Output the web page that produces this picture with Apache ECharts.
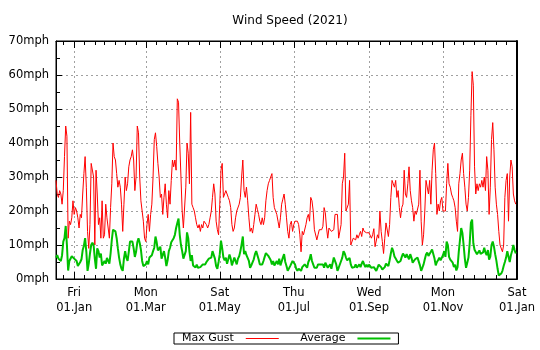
<!DOCTYPE html>
<html>
<head>
<meta charset="utf-8">
<script src="https://cdn.jsdelivr.net/npm/echarts@6/dist/echarts.min.js"></script>
<style>
  html, body { margin: 0; padding: 0; background: #fff; }
  #chart { width: 540px; height: 350px; }
</style>
</head>
<body>
<div id="chart"></div>
<script>
// Daily wind readings, one value per day starting at firstDay.
const chartTitle = 'Wind Speed (2021)';
const firstDay = [2020, 11, 17];          // 17 Dec 2020 (UTC year, month index, day)
const lastDay = [2022, 0, 1];             // axis ends on 01 Jan 2022
const majorTicks = ['2021-01-01', '2021-03-01', '2021-05-01', '2021-07-01', '2021-09-01', '2021-11-01', '2022-01-01'];
const dayNames = ['Sun', 'Mon', 'Tue', 'Wed', 'Thu', 'Fri', 'Sat'];
const monthNames = ['Jan', 'Feb', 'Mar', 'Apr', 'May', 'Jun', 'Jul', 'Aug', 'Sep', 'Oct', 'Nov', 'Dec'];
const seriesNames = ['Max Gust', 'Average'];

// Max gust (mph)
const maxGust = [
  29, 25, 24, 26, 25, 22, 26, 36, 45, 42,
  12, 17, 16, 18, 23, 19, 21, 20, 18, 15,
  19, 18, 25, 31, 36, 27, 14, 9, 16, 34,
  34, 30, 10, 32, 25, 16, 18, 12, 23, 12,
  13, 22, 18, 15, 12, 21, 28, 40, 36, 35,
  31, 27, 29, 27, 22, 14, 22, 30, 26, 28,
  33, 35, 36, 38, 35, 26, 30, 45, 43, 30,
  23, 20, 17, 12, 11, 16, 19, 14, 19, 22,
  30, 41, 43, 39, 34, 30, 24, 25, 19, 24,
  28, 22, 18, 26, 22, 29, 35, 33, 35, 32,
  53, 52, 40, 30, 20, 15, 15, 27, 40, 37,
  28, 49, 22, 21, 20, 18, 16, 15, 16, 14,
  16, 15, 17, 17, 16, 15, 16, 18,
  20, 24, 28, 25, 17, 14.5, 13, 22, 32, 34,
  24, 25, 26, 25, 24, 23, 21, 16, 14, 15,
  18, 20, 20.5, 22, 24, 30, 35, 26, 24, 27,
  23, 18, 14, 15, 13.5, 16, 19, 22, 20.5, 19,
  17, 16, 18, 16, 18, 23, 26, 28, 29, 30,
  31, 24, 21, 20, 19, 17, 15, 18, 22, 23.5,
  25, 22, 18, 14, 12, 16, 17, 14, 16, 17,
  17, 17, 16, 13, 8, 14, 13, 13.5, 16, 18,
  19, 17, 24, 23, 20, 14.5, 14, 11.5, 13, 14.5,
  15, 14.5, 15.5, 21, 19.5, 15, 12, 15, 15, 14,
  14, 14.5, 19, 19, 19, 12, 12, 16, 28, 30,
  37, 20, 20, 22, 29, 10, 10, 12, 12, 11.5,
  13, 12, 13, 14, 12.5, 15, 14,
  14, 13.6, 14, 13.6, 14, 12, 13, 14.8, 9.5, 10,
  13, 12, 20, 14, 11, 7.5, 12, 16.5, 16, 12.5,
  16, 24, 29, 28, 27, 29, 24, 26, 21, 18,
  21, 22, 32, 25, 24, 28, 33, 26, 23, 21,
  17, 20, 19, 19, 22, 32, 17, 10, 13, 20,
  29, 28.5, 25, 29, 22, 32, 38, 40, 31, 19,
  22, 20, 23, 24, 20, 20, 20, 28, 34, 28,
  27, 25, 24, 23, 21, 17, 14, 28, 31, 35,
  37, 31, 27, 22, 20, 24, 32, 48, 61, 57,
  33, 25, 28, 26, 28, 27, 29, 27, 30, 26,
  36, 32, 19, 27, 41, 46, 38, 27, 22, 19,
  14, 10, 9.5, 8, 10, 24, 29, 31, 17, 30,
  35, 33, 25, 23, 22
];

// Daily average (mph)
const average = [
  6.3, 7, 6, 5.5, 5.3, 7, 11, 12, 15.6, 10,
  2.5, 5.3, 5.7, 6.7, 7, 6, 6.3, 5.3, 3.8, 3.5,
  5, 5.8, 8.5, 9.8, 12, 8, 2.4, 4.5, 7.5, 10,
  10.7, 10, 6, 3, 9, 8.2, 6.3, 7.5, 4, 4.3,
  5.3, 4.5, 6.2, 6.3, 4.5, 7.5, 11.5, 14.5, 14.6, 14,
  12, 9, 6.3, 4.3, 3, 2.4, 6, 8.2, 6.3, 5.3,
  8, 11, 10.5, 11, 9, 6.5, 8, 10.8, 12, 10.6,
  8.6, 5.3, 3.8, 3.3, 4.3, 5.3, 4.3, 6.3, 6.5, 7,
  8.2, 9.2, 12.5, 10.8, 8.4, 8.2, 9.5, 6, 6.3, 8.2,
  6.3, 3.8, 5.5, 8.2, 9.2, 10.8, 11.4, 12, 13, 15,
  16.5, 17.8, 13, 10, 8.2, 6, 5.5, 8.2, 13.7, 12,
  8, 5.3, 7, 4, 3.5, 3.4, 4.2, 3.3, 3.7, 3.5,
  3.6, 4.3, 3.8, 4.3, 5, 5.2, 6, 6.3,
  6.3, 8.2, 8.5, 6, 3.8, 3, 5, 7.3, 11.3, 9,
  6.3, 5.5, 6.3, 4.5, 5.8, 7.2, 6, 4, 4, 6.3,
  5.8, 4.3, 6, 6.7, 8.2, 10.2, 12.5, 7.3, 8.2, 7,
  6.5, 5.3, 3.3, 4, 4, 5.8, 7.3, 8.2, 8, 5.8,
  4.3, 3.8, 4.3, 5.3, 6.5, 7.6, 7.2, 6.8, 6.2, 5.5,
  4.3, 5.3, 4, 3.5, 5.3, 4.3, 6, 4, 4.3, 6.3,
  7.3, 5, 3.8, 2.4, 1.9, 3.8, 4, 5.3, 4.8, 4.3,
  3, 2.4, 3, 2.8, 2.4, 3.5, 3.8, 4.3, 3.8, 3.3,
  5, 5.8, 7.3, 5.3, 4.3, 3.3, 3.6, 3.3, 4.3, 3.8,
  4.3, 3.8, 4.3, 3.3, 4.8, 5, 3.3, 3.8, 4.3, 3,
  3.5, 6.3, 6.8, 4.3, 2.4, 3.3, 3.5, 5.3, 6.3, 8.2,
  7.5, 6.3, 5.5, 6, 6.2, 4.3, 3.3, 3.8, 3.5, 4.3,
  3.3, 3.8, 4.3, 3.5, 4.5, 5.3, 4.3,
  3.5, 4.2, 3.5, 4.2, 3.8, 3.3, 2.8, 3.5, 3.8, 2.4,
  3.3, 4.2, 3.8, 3.5, 2.8, 2.4, 3.5, 4.5, 4.3, 3.8,
  5.5, 7.5, 9.2, 8.2, 6.6, 6, 5.4, 4.8, 4.3, 5.3,
  6.5, 7.5, 7.3, 6.3, 7.3, 7.8, 5.8, 7.3, 6.3, 4.8,
  5.2, 5.8, 5.3, 6.3, 6.5, 4, 2.4, 3.3, 4.3, 5.8,
  7.2, 7.8, 6.8, 6.8, 8, 8.7, 8.2, 6, 4, 5,
  5.6, 6.3, 5.5, 6, 7, 8.2, 6.5, 11, 10, 6.5,
  5.7, 6.2, 4.8, 3.5, 4.2, 2.5, 3.5, 8, 11.5, 15,
  13.5, 10, 6, 3.3, 4.8, 6.3, 10.5, 16.5, 17.5, 10.5,
  8.6, 8.8, 7.3, 7.7, 8.4, 7.4, 7.2, 7.8, 9.2, 7.8,
  7, 8.5, 5.7, 6.6, 10, 11, 9.5, 7.3, 5.4, 3,
  1, 1, 1.6, 2.4, 3.8, 5, 6.3, 8.2, 8, 5,
  7, 8.3, 10, 8.5, 7.5
];

// ---- calendar categories -------------------------------------------------
const DAY = 86400000;
const pad2 = n => (n < 10 ? '0' : '') + n;
const isoOf = t => {
  const d = new Date(t);
  return d.getUTCFullYear() + '-' + pad2(d.getUTCMonth() + 1) + '-' + pad2(d.getUTCDate());
};
const t0 = Date.UTC(firstDay[0], firstDay[1], firstDay[2]);
const t1 = Date.UTC(lastDay[0], lastDay[1], lastDay[2]);
const days = [];
for (let t = t0; t <= t1; t += DAY) days.push(isoOf(t));

const dayIndex = iso => Math.round((Date.parse(iso + 'T00:00:00Z') - t0) / DAY);
const majorIdx = majorTicks.map(dayIndex);

// Six minor ticks split every two-month span into seven parts; the span
// ending at the first labelled date is included so the left edge gets them too.
const prevMajor = (() => {
  const d = new Date(Date.parse(majorTicks[0] + 'T00:00:00Z'));
  return dayIndex(isoOf(Date.UTC(d.getUTCFullYear(), d.getUTCMonth() - 2, 1)));
})();
const spans = [prevMajor].concat(majorIdx);
const minorIdx = new Set();
for (let i = 0; i + 1 < spans.length; i++) {
  const a = spans[i], b = spans[i + 1];
  for (let k = 1; k < 7; k++) {
    const m = Math.round(a + k * (b - a) / 7);
    if (m >= 0 && m < days.length) minorIdx.add(m);
  }
}
const majorSet = new Set(majorIdx);
const isMajor = idx => majorSet.has(idx);
const isMinor = idx => minorIdx.has(idx);

const labelOf = iso => {
  const d = new Date(iso + 'T00:00:00Z');
  return dayNames[d.getUTCDay()] + '\n' + pad2(d.getUTCDate()) + '.' + monthNames[d.getUTCMonth()];
};

const FONT = 'DejaVu Sans';
const dotted = { color: '#a0a0a0', width: 1, type: [2, 3] };

const baseX = {
  type: 'category',
  data: days,
  boundaryGap: false,
  gridIndex: 0,
  axisLine: { show: false },
  axisLabel: { show: false },
  splitLine: { show: false },
  axisPointer: { show: false }
};

const chart = echarts.init(document.getElementById('chart'), null, { renderer: 'canvas' });
chart.setOption({
  animation: false,
  backgroundColor: '#ffffff',
  title: {
    text: chartTitle,
    left: 285,
    top: 10,
    textAlign: 'center',
    textStyle: { fontFamily: FONT, fontSize: 12, fontWeight: 'normal', color: '#000' }
  },
  grid: {
    left: 56, right: 23, top: 41, bottom: 71,
    show: true, borderColor: '#000', borderWidth: 1, backgroundColor: 'transparent'
  },
  legend: {
    left: 174,
    top: 333,
    align: 'right',
    itemWidth: 33,
    itemHeight: 13,
    itemGap: 21,
    padding: [0, 7, 0, 8],
    borderColor: '#000',
    borderWidth: 1,
    borderRadius: 0,
    selectedMode: false,
    itemStyle: { opacity: 0 },
    textStyle: { fontFamily: FONT, fontSize: 11, color: '#000', padding: [0, 7, 0, 0] },
    data: [
      { name: seriesNames[0], lineStyle: { width: 1 } },
      { name: seriesNames[1], lineStyle: { width: 2 } }
    ]
  },
  xAxis: [
    Object.assign({}, baseX, {
      position: 'bottom',
      axisLine: { show: true, lineStyle: { color: '#000', width: 1 } },
      axisTick: { show: true, inside: true, length: 7, interval: isMajor, lineStyle: { color: '#000' } },
      axisLabel: {
        show: true, interval: isMajor, formatter: labelOf, margin: 7,
        fontFamily: FONT, fontSize: 11.5, lineHeight: 15, color: '#000'
      },
      splitLine: { show: true, interval: (idx) => isMajor(idx) && idx !== days.length - 1, lineStyle: dotted }
    }),
    Object.assign({}, baseX, {
      position: 'bottom',
      axisTick: { show: true, inside: true, length: 4, interval: isMinor, lineStyle: { color: '#000' } }
    }),
    Object.assign({}, baseX, {
      position: 'top',
      axisLine: { show: true, lineStyle: { color: '#000', width: 1 } },
      axisTick: { show: true, inside: true, length: 7, interval: isMajor, lineStyle: { color: '#000' } }
    }),
    Object.assign({}, baseX, {
      position: 'top',
      axisTick: { show: true, inside: true, length: 4, interval: isMinor, lineStyle: { color: '#000' } }
    })
  ],
  yAxis: [
    {
      type: 'value',
      min: 0,
      max: 70,
      interval: 10,
      axisLine: { show: true, lineStyle: { color: '#000', width: 1 } },
      axisTick: { show: true, inside: true, length: 6, lineStyle: { color: '#000' } },
      minorTick: { show: true, splitNumber: 2, length: 4, lineStyle: { color: '#000' } },
      axisLabel: {
        formatter: '{value}mph', margin: 7,
        fontFamily: FONT, fontSize: 11.5, color: '#000'
      },
      splitLine: { show: true, lineStyle: dotted }
    },
    {
      // heavier right-hand frame edge
      type: 'value',
      position: 'right',
      min: 0,
      max: 70,
      interval: 10,
      axisLine: { show: true, lineStyle: { color: '#000', width: 2 } },
      axisTick: { show: false },
      axisLabel: { show: false },
      splitLine: { show: false }
    }
  ],
  series: [
    {
      name: seriesNames[0],
      type: 'line',
      xAxisIndex: 0,
      yAxisIndex: 0,
      data: maxGust,
      symbol: 'none',
      showSymbol: false,
      sampling: false,
      lineStyle: { color: '#ff0000', width: 1 },
      itemStyle: { color: '#ff0000' },
      emphasis: { disabled: true }
    },
    {
      name: seriesNames[1],
      type: 'line',
      xAxisIndex: 0,
      yAxisIndex: 0,
      data: average,
      symbol: 'none',
      showSymbol: false,
      lineStyle: { color: '#00c000', width: 2 },
      itemStyle: { color: '#00c000' },
      emphasis: { disabled: true }
    }
  ]
});
</script>
</body>
</html>
